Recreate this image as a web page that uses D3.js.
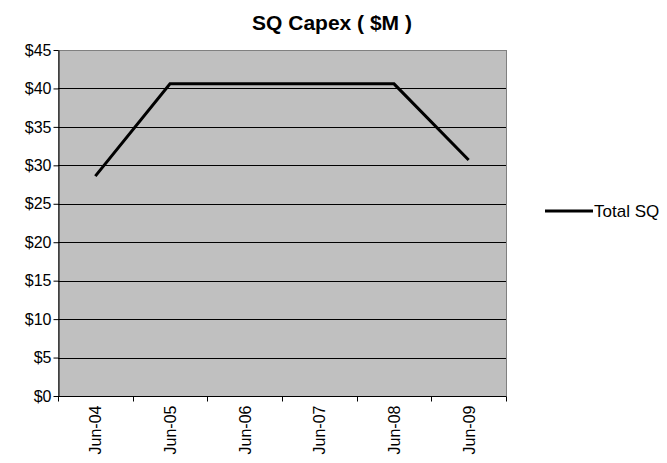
<!DOCTYPE html>
<html>
<head>
<meta charset="utf-8">
<script src="https://cdn.jsdelivr.net/npm/d3@7"></script>
<style>
  html, body { margin: 0; padding: 0; background: #ffffff; }
  svg { display: block; font-family: "Liberation Sans", Arial, sans-serif; }
</style>
</head>
<body>
<svg id="chart" width="667" height="463"></svg>
<script>
// Capital expenditure by fiscal year, $ millions
const categories = ["Jun-04", "Jun-05", "Jun-06", "Jun-07", "Jun-08", "Jun-09"];
const totalSQ = [28.6, 40.6, 40.6, 40.6, 40.6, 30.7];
const yTicks = [0, 5, 10, 15, 20, 25, 30, 35, 40, 45];
const seriesName = "Total SQ";
const title = "SQ Capex ( $M )";

const svg = d3.select("#chart");
const plot = { left: 58, right: 506, top: 50, bottom: 396 };

const x = d3.scaleBand().domain(categories).range([plot.left, plot.right]).padding(0);
const y = d3.scaleLinear().domain([0, 45]).range([plot.bottom, plot.top]);

// Plot background
svg.append("rect")
  .attr("x", plot.left + 0.5).attr("y", plot.top + 0.5)
  .attr("width", plot.right - plot.left).attr("height", plot.bottom - plot.top)
  .attr("fill", "#c0c0c0")
  .attr("stroke", "#808080").attr("stroke-width", 1);

// Horizontal gridlines
svg.append("g").selectAll("line")
  .data(yTicks.filter(d => d > 0 && d < 45))
  .join("line")
  .attr("x1", plot.left).attr("x2", plot.right)
  .attr("y1", d => Math.round(y(d)) + 0.5).attr("y2", d => Math.round(y(d)) + 0.5)
  .attr("stroke", "#000").attr("stroke-width", 1);

// Y axis
const yAxis = svg.append("g")
  .attr("transform", `translate(${plot.left + 0.5},0)`)
  .call(d3.axisLeft(y).tickValues(yTicks).tickFormat(d => "$" + d).tickSize(5).tickSizeOuter(0));
yAxis.select(".domain").attr("stroke", "#000");
yAxis.selectAll(".tick line").attr("stroke", "#000");
yAxis.selectAll(".tick text")
  .attr("x", -7)
  .attr("fill", "#000")
  .style("font-size", "16px")
  .style("font-family", "'Liberation Sans', Arial, sans-serif");

// X axis: ticks at category boundaries, labels at category centres
const xAxisG = svg.append("g").attr("transform", `translate(0,${plot.bottom + 0.5})`);
xAxisG.append("line")
  .attr("x1", plot.left).attr("x2", plot.right)
  .attr("stroke", "#000");
const boundaries = categories.map(c => x(c)).concat([x(categories[categories.length - 1]) + x.bandwidth()]);
xAxisG.selectAll("line.tick")
  .data(boundaries)
  .join("line")
  .attr("class", "tick")
  .attr("x1", d => Math.round(d) + 0.5).attr("x2", d => Math.round(d) + 0.5)
  .attr("y1", 0).attr("y2", 5)
  .attr("stroke", "#000");
xAxisG.selectAll("text")
  .data(categories)
  .join("text")
  .attr("transform", d => `translate(${x(d) + x.bandwidth() / 2 + 6},9) rotate(-90)`)
  .attr("text-anchor", "end")
  .attr("fill", "#000")
  .style("font-size", "16px")
  .text(d => d);

// Series line
const line = d3.line()
  .x((d, i) => x(categories[i]) + x.bandwidth() / 2)
  .y(d => y(d));
svg.append("path")
  .datum(totalSQ)
  .attr("d", line)
  .attr("fill", "none")
  .attr("stroke", "#000")
  .attr("stroke-width", 3)
  .attr("stroke-linejoin", "miter");

// Title
svg.append("text")
  .attr("x", 332).attr("y", 30)
  .attr("text-anchor", "middle")
  .style("font-size", "21px")
  .style("font-weight", "bold")
  .text(title);

// Legend
const legend = svg.append("g").attr("transform", "translate(545,211)");
legend.append("line")
  .attr("x1", 0).attr("x2", 48).attr("y1", 0).attr("y2", 0)
  .attr("stroke", "#000").attr("stroke-width", 3);
legend.append("text")
  .attr("x", 49).attr("y", 6)
  .style("font-size", "17px")
  .text(seriesName);
</script>
</body>
</html>
